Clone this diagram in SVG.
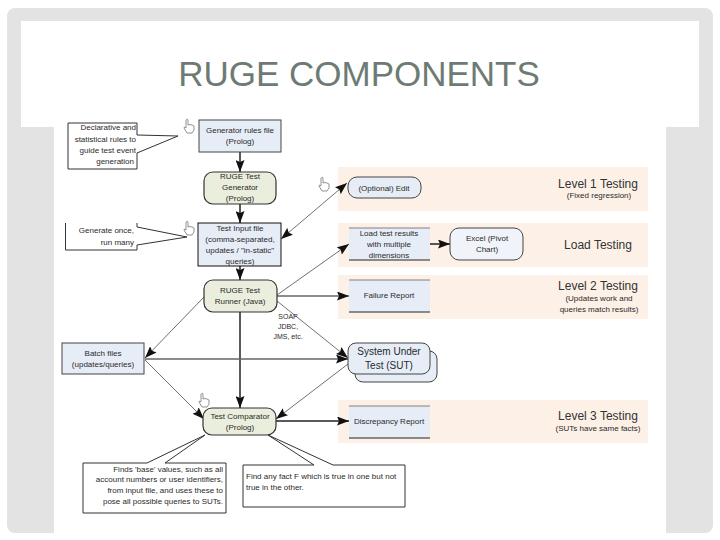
<svg xmlns="http://www.w3.org/2000/svg" width="720" height="540" viewBox="0 0 720 540">
<style>
text{font-family:"Liberation Sans",Arial,sans-serif;text-anchor:middle;fill:#2a2a2a}
.n{font-size:8px}
.e{text-anchor:end}
.s{text-anchor:start}
.lv{font-size:12px;fill:#333}
.sub{font-size:8px}
.blue{fill:#e6edf7;stroke:#444;stroke-width:1}
.green{fill:#eaeedd;stroke:#333;stroke-width:1.2}
.band{fill:#fdf1e7}
.call{fill:#fff;stroke:#333;stroke-width:1}
.thin{fill:none;stroke:#333;stroke-width:.7;marker-end:url(#a)}
.thick{fill:none;stroke:#222;stroke-width:1.5;marker-end:url(#a)}
.grey{fill:none;stroke:#666;stroke-width:1.7;marker-end:url(#a)}
.top{stroke:#666;stroke-width:.8}
.bot{stroke:#666;stroke-width:1.6}
.hand{fill:#fff;stroke:#777;stroke-width:.8}
</style>
<defs>
<marker id="a" viewBox="0 0 12 9" refX="12" refY="4.500" markerUnits="userSpaceOnUse" markerWidth="12" markerHeight="9" orient="auto-start-reverse"><path d="M0 0L12 4.500L0 9L2 4.500Z" fill="#111"/></marker>
<path id="h" class="hand" d="M2 0C3-1 4-1 4 0V5L6 4.500L8 5L10 6V10L8 13H3L0 8L0.500 7L2 8Z"/>
</defs>
<rect width="720" height="540" fill="#fff"/>
<rect x="7" y="8" width="706" height="525" rx="8" fill="#e3e3e3"/>
<rect x="54" y="120" width="612" height="420" fill="#fff"/>
<rect x="21" y="21" width="678" height="106" fill="#fff"/>
<text x="359" y="86" style="font-size:35px;fill:#6d7b74">RUGE COMPONENTS</text>

<g id="bands">
<rect class="band" x="338" y="167" width="310" height="44"/>
<rect class="band" x="338" y="223" width="310" height="44"/>
<rect class="band" x="338" y="275" width="310" height="44"/>
<rect class="band" x="338" y="400" width="310" height="43"/>
</g>

<g id="connectors">
<path class="thick" d="M240 152V172"/>
<path class="thick" d="M240 204V223"/>
<path class="thick" d="M240 266V280"/>
<path class="thick" d="M240 312V408"/>
<path class="thin" d="M281 239L347 183" style="marker-start:url(#a)"/>
<path class="thin" d="M277 295L349 244"/>
<path class="grey" d="M277 296H349"/>
<path class="thin" d="M277 301L348 358"/>
<path class="thin" d="M204 297L145 358"/>
<path class="grey" d="M145 359H348"/>
<path class="thin" d="M145 360L204 419"/>
<path class="thin" d="M348 364L276 419"/>
<path class="thick" d="M276 421H349"/>
<path class="thick" d="M430 244H450"/>
</g>

<g id="callout1"><path class="call" d="M68 123H137V135L178 136L137 153V169H68Z"/>
<text class="n e" x="136" y="130">Declarative and</text><text class="n e" x="136" y="142">statistical rules to</text><text class="n e" x="136" y="153">guide test event</text><text class="n e" x="134" y="164">generation</text></g>
<g id="callout2"><path class="call" d="M65.500 223V250H137V245L187 237L137 227V223"/>
<text class="n e" x="134" y="233">Generate once,</text><text class="n e" x="134" y="245">run many</text></g>

<g id="generator-rules"><rect class="blue" x="199" y="120" width="82" height="32"/><text class="n" x="240" y="133">Generator rules file</text><text class="n" x="240" y="144">(Prolog)</text></g>
<g id="generator"><rect class="green" x="204" y="172" width="72" height="32" rx="9"/><text class="n" x="240" y="179">RUGE Test</text><text class="n" x="240" y="190">Generator</text><text class="n" x="240" y="201">(Prolog)</text></g>
<g id="input"><rect class="blue" x="198" y="223" width="83" height="43" style="stroke:#111"/><text class="n" x="240" y="231">Test Input file</text><text class="n" x="240" y="242">(comma-separated,</text><text class="n" x="240" y="253">updates / "in-static"</text><text class="n" x="240" y="264">queries)</text></g>
<g id="runner"><rect class="green" x="204" y="280" width="73" height="32" rx="9"/><text class="n" x="240" y="293">RUGE Test</text><text class="n" x="240" y="304">Runner (Java)</text></g>
<g id="batch"><rect class="blue" x="62" y="343" width="82" height="31"/><text class="n" x="103" y="356">Batch files</text><text class="n" x="103" y="367">(updates/queries)</text></g>
<g id="comparator"><rect class="green" x="203" y="408" width="73" height="27" rx="9"/><text class="n" x="240" y="419">Test Comparator</text><text class="n" x="240" y="430">(Prolog)</text></g>
<g id="protocols"><text x="288" y="319" style="font-size:7px">SOAP</text><text x="288" y="329" style="font-size:7px">JDBC,</text><text x="288" y="339" style="font-size:7px">JMS, etc.</text></g>

<g id="callout3"><path class="call" d="M83 463H147L205 435L165 463H226V513H83Z"/>
<text class="n e" x="223" y="472">Finds 'base' values, such as all</text><text class="n e" x="223" y="482">account numbers or user identifiers,</text><text class="n e" x="223" y="493">from input file, and uses these to</text><text class="n e" x="223" y="504">pose all possible queries to SUTs.</text></g>
<g id="callout4"><path class="call" d="M243 465H314L268 435L333 465H405V507H243Z"/>
<text class="n s" x="246" y="479">Find any fact F which is true in one but not</text><text class="n s" x="246" y="490">true in the other.</text></g>

<g id="edit"><rect class="blue" x="348" y="177" width="73" height="21" rx="9"/><text class="n" x="384" y="191">(Optional) Edit</text></g>
<g id="load"><rect x="349" y="228" width="81" height="32" fill="#e6edf7"/><path class="top" d="M349 228H430"/><path class="bot" d="M349 260H430"/><text class="n" x="389" y="236">Load test results</text><text class="n" x="389" y="247">with multiple</text><text class="n" x="389" y="258">dimensions</text></g>
<g id="excel"><rect class="blue" x="450" y="228" width="73" height="32" rx="9" style="fill:#f0f3f9"/><text class="n" x="487" y="241">Excel (Pivot</text><text class="n" x="487" y="252">Chart)</text></g>
<g id="failure"><rect x="349" y="280" width="81" height="32" fill="#e6edf7"/><path class="top" d="M349 280H430"/><path class="bot" d="M349 312H430"/><text class="n" x="389" y="298">Failure Report</text></g>
<g id="sut"><rect class="blue" x="355" y="351" width="82" height="31" rx="8"/><rect class="blue" x="348" y="343" width="82" height="31" rx="8"/><text x="389" y="355" style="font-size:10px">System Under</text><text x="389" y="369" style="font-size:10px">Test (SUT)</text></g>
<g id="discrepancy"><rect x="349" y="406" width="81" height="32" fill="#e6edf7"/><path class="top" d="M349 406H430"/><path class="bot" d="M349 438H430"/><text class="n" x="389" y="424">Discrepancy Report</text></g>

<g id="labels">
<text class="lv" x="598" y="188">Level 1 Testing</text><text class="sub" x="599" y="198">(Fixed regression)</text>
<text class="lv" x="598" y="249">Load Testing</text>
<text class="lv" x="598" y="290">Level 2 Testing</text><text class="sub" x="599" y="301">(Updates work and</text><text class="sub" x="599" y="312">queries match results)</text>
<text class="lv" x="598" y="420">Level 3 Testing</text><text class="sub" x="598" y="431">(SUTs have same facts)</text>
</g>

<g id="hands">
<use href="#h" x="184" y="120"/><use href="#h" x="319" y="178"/><use href="#h" x="184" y="222"/><use href="#h" x="199" y="394"/>
</g>
</svg>
